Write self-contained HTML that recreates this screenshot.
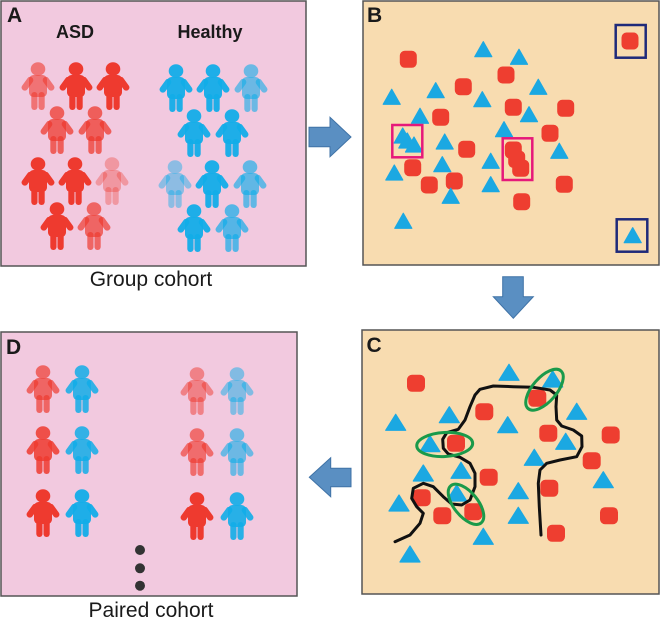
<!DOCTYPE html>
<html><head><meta charset="utf-8"><style>
html,body{margin:0;padding:0;background:#fff;}
svg{display:block;}
text{font-family:"Liberation Sans",Arial,sans-serif;}
</style></head><body>
<svg width="660" height="618" viewBox="0 0 660 618" xmlns="http://www.w3.org/2000/svg">
<defs>
<symbol id="p" viewBox="0 0 32 48" width="32" height="48" overflow="visible">
<ellipse cx="16" cy="7" rx="7.3" ry="6.8"/>
<rect x="7" y="13" width="18" height="22" rx="4.5"/>
<rect x="-3.2" y="0" width="6.4" height="15.5" rx="3.2" transform="translate(10,15.5) rotate(36)"/>
<rect x="-3.2" y="0" width="6.4" height="15.5" rx="3.2" transform="translate(22,15.5) rotate(-36)"/>
<rect x="9.3" y="30" width="6.2" height="18" rx="3"/>
<rect x="16.5" y="30" width="6.2" height="18" rx="3"/>
</symbol>
<path id="tb" d="M0,0 L8.5,15 L-8.5,15Z" fill="#1ba8e2" stroke="#1ba8e2" stroke-width="1.2" stroke-linejoin="round"/>
<rect id="sb" x="-8.5" y="-8.5" width="17" height="17" rx="5" fill="#ee3e30"/>
<path id="tc" d="M0,0 L10,16 L-10,16Z" fill="#1ba8e2" stroke="#1ba8e2" stroke-width="1.2" stroke-linejoin="round"/>
<rect id="sc" x="-9" y="-8.5" width="18" height="17" rx="5" fill="#ee3e30"/>
</defs>

<!-- Panel A -->
<rect x="1" y="1" width="305" height="265" fill="#f2c9df" stroke="#555" stroke-width="1.5"/>
<text x="7" y="22" font-size="21" font-weight="bold" fill="#1a1a1a">A</text>
<text x="75" y="38" font-size="18" font-weight="bold" fill="#1a1a1a" text-anchor="middle">ASD</text>
<text x="210" y="38" font-size="18" font-weight="bold" fill="#1a1a1a" text-anchor="middle">Healthy</text>
<g fill="#ee3a2f">
<use href="#p" x="22" y="62" fill-opacity="0.6"/>
<use href="#p" x="60" y="62"/>
<use href="#p" x="97" y="62"/>
<use href="#p" x="41" y="106" fill-opacity="0.75"/>
<use href="#p" x="79" y="106" fill-opacity="0.75"/>
<use href="#p" x="22" y="157"/>
<use href="#p" x="59" y="157"/>
<use href="#p" x="96" y="157" fill-opacity="0.35"/>
<use href="#p" x="41" y="202"/>
<use href="#p" x="78" y="202" fill-opacity="0.7"/>
</g>
<g fill="#12ade8">
<use href="#p" x="160" y="64" fill-opacity="0.95"/>
<use href="#p" x="197" y="64" fill-opacity="0.95"/>
<use href="#p" x="235" y="64" fill-opacity="0.6"/>
<use href="#p" x="178" y="109" fill-opacity="0.95"/>
<use href="#p" x="216" y="109" fill-opacity="0.95"/>
<use href="#p" x="159" y="160" fill-opacity="0.45"/>
<use href="#p" x="196" y="160" fill-opacity="0.95"/>
<use href="#p" x="234" y="160" fill-opacity="0.65"/>
<use href="#p" x="178" y="204" fill-opacity="0.95"/>
<use href="#p" x="216" y="204" fill-opacity="0.7"/>
</g>
<text x="151" y="286" font-size="21" fill="#1a1a1a" text-anchor="middle">Group cohort</text>

<!-- Arrow A->B -->
<polygon points="309,127.3 330,127.3 330,117.3 351,137 330,156.7 330,146.7 309,146.7" fill="#5a8fc2" stroke="#3f72a6" stroke-width="1"/>

<!-- Panel B -->
<rect x="363" y="1" width="296" height="264" fill="#f8dcb0" stroke="#555" stroke-width="1.5"/>
<text x="367" y="22" font-size="21" font-weight="bold" fill="#1a1a1a">B</text>
<g>
<use href="#sb" x="408.3" y="59.3"/>
<use href="#sb" x="463.3" y="86.7"/>
<use href="#sb" x="506" y="75"/>
<use href="#sb" x="440.7" y="117.3"/>
<use href="#sb" x="513.3" y="107.3"/>
<use href="#sb" x="565.7" y="108.3"/>
<use href="#sb" x="550" y="133.3"/>
<use href="#sb" x="466.7" y="149.3"/>
<use href="#sb" x="412.7" y="167.7"/>
<use href="#sb" x="429.3" y="185"/>
<use href="#sb" x="454.3" y="181"/>
<use href="#sb" x="564.3" y="184.3"/>
<use href="#sb" x="521.7" y="201.7"/>
<use href="#sb" x="513.3" y="150"/>
<use href="#sb" x="516.7" y="159.3"/>
<use href="#sb" x="520.7" y="168.3"/>
<use href="#sb" x="630" y="41"/>
</g>
<g>
<use href="#tb" x="483.3" y="41.7"/>
<use href="#tb" x="519" y="49.3"/>
<use href="#tb" x="391.7" y="89.3"/>
<use href="#tb" x="435.7" y="82.7"/>
<use href="#tb" x="482.3" y="91.7"/>
<use href="#tb" x="538.3" y="79.3"/>
<use href="#tb" x="420" y="108.3"/>
<use href="#tb" x="529" y="106.7"/>
<use href="#tb" x="504" y="121.7"/>
<use href="#tb" x="444.7" y="134"/>
<use href="#tb" x="559.3" y="143.3"/>
<use href="#tb" x="490.7" y="153.3"/>
<use href="#tb" x="442.3" y="156.7"/>
<use href="#tb" x="394.3" y="165"/>
<use href="#tb" x="490.7" y="176.7"/>
<use href="#tb" x="450.7" y="188.3"/>
<use href="#tb" x="403.3" y="213.3"/>
<use href="#tb" x="402.7" y="128"/>
<use href="#tb" x="407.3" y="133"/>
<use href="#tb" x="414" y="137"/>
<use href="#tb" x="632.7" y="227.7"/>
</g>
<rect x="392.3" y="125" width="30" height="32.3" fill="none" stroke="#e6197a" stroke-width="2.5"/>
<rect x="502.7" y="138.3" width="29.6" height="41.7" fill="none" stroke="#e6197a" stroke-width="2.5"/>
<rect x="615.7" y="25" width="30" height="32.7" fill="none" stroke="#1f2a7a" stroke-width="2.5"/>
<rect x="616.7" y="219.3" width="30.6" height="32.4" fill="none" stroke="#1f2a7a" stroke-width="2.5"/>

<!-- Arrow B->C -->
<polygon points="502.7,276.7 523.3,276.7 523.3,296.7 533.3,296.7 513.3,318.3 493.3,296.7 502.7,296.7" fill="#5a8fc2" stroke="#3f72a6" stroke-width="1"/>

<!-- Panel C -->
<rect x="362" y="330" width="297" height="264" fill="#f8dcb0" stroke="#555" stroke-width="1.5"/>
<text x="366.5" y="352" font-size="21" font-weight="bold" fill="#1a1a1a">C</text>
<g>
<use href="#sc" x="416" y="383.3"/>
<use href="#sc" x="484.3" y="411.7"/>
<use href="#sc" x="537.3" y="398.3"/>
<use href="#sc" x="548.3" y="433.3"/>
<use href="#sc" x="610.7" y="435"/>
<use href="#sc" x="456" y="443.3"/>
<use href="#sc" x="591.7" y="460.7"/>
<use href="#sc" x="488.7" y="477.3"/>
<use href="#sc" x="549.3" y="488.3"/>
<use href="#sc" x="421.7" y="497.7"/>
<use href="#sc" x="442.3" y="515.7"/>
<use href="#sc" x="473.3" y="511.7"/>
<use href="#sc" x="609" y="515.7"/>
<use href="#sc" x="556" y="533.3"/>
</g>
<g>
<use href="#tc" x="509" y="364.3"/>
<use href="#tc" x="552.7" y="371"/>
<use href="#tc" x="395.7" y="414.3"/>
<use href="#tc" x="449.3" y="406.7"/>
<use href="#tc" x="507.7" y="416.7"/>
<use href="#tc" x="576.7" y="403.3"/>
<use href="#tc" x="565.7" y="433.3"/>
<use href="#tc" x="430" y="435.7"/>
<use href="#tc" x="534.3" y="449.3"/>
<use href="#tc" x="423.3" y="465"/>
<use href="#tc" x="461" y="462.3"/>
<use href="#tc" x="603.3" y="471.7"/>
<use href="#tc" x="518.3" y="482.7"/>
<use href="#tc" x="456.7" y="485"/>
<use href="#tc" x="399" y="495"/>
<use href="#tc" x="518.3" y="507.3"/>
<use href="#tc" x="483.3" y="528.3"/>
<use href="#tc" x="410" y="546"/>
</g>
<polyline fill="none" stroke="#111" stroke-width="3" stroke-linejoin="round" stroke-linecap="round" points="395,541.7 410,535 420,523.3 423.3,513.3 416.7,506.7 411.7,498.3 413.3,488.3 423.3,483.3 433.3,486.7 443.3,496.7 451.7,504 461.7,505 470,500 475,486.7 475,473.3 470,463.3 460,457.3 448.3,454 443.3,448.3 442.7,439.3 446.7,432.7 458.3,429.3 465,420 470,406.7 475,395 480,389.3 493.3,386 513.3,386.7 533.3,387.3 550,390 556.7,395 556,406.7 556.7,420 561.7,426 573.3,430 581.7,436 582,446.7 576.7,456.7 560,460 546.7,463.3 540,470 538.3,483.3 539.3,506.7 541,535"/>
<g fill="none" stroke="#1a9a4a" stroke-width="3">
<ellipse cx="544.5" cy="389.7" rx="25" ry="12" transform="rotate(-49 544.5 389.7)"/>
<ellipse cx="444.7" cy="444.5" rx="28" ry="12" transform="rotate(-3 444.7 444.5)"/>
<ellipse cx="466" cy="504.3" rx="24" ry="12" transform="rotate(51 466 504.3)"/>
</g>

<!-- Arrow C->D -->
<polygon points="351,468.3 330.7,468.3 330.7,457.7 309.3,477.3 330.7,496.7 330.7,486.7 351,486.7" fill="#5a8fc2" stroke="#3f72a6" stroke-width="1"/>

<!-- Panel D -->
<rect x="1" y="332" width="296" height="264" fill="#f2c9df" stroke="#555" stroke-width="1.5"/>
<text x="6" y="354" font-size="21" font-weight="bold" fill="#1a1a1a">D</text>
<g fill="#ee3a2f">
<use href="#p" x="27" y="365" fill-opacity="0.7"/>
<use href="#p" x="181" y="367" fill-opacity="0.5"/>
<use href="#p" x="27" y="426" fill-opacity="0.85"/>
<use href="#p" x="181" y="428" fill-opacity="0.65"/>
<use href="#p" x="27" y="489"/>
<use href="#p" x="181" y="492"/>
</g>
<g fill="#12ade8">
<use href="#p" x="66" y="365" fill-opacity="0.85"/>
<use href="#p" x="221" y="367" fill-opacity="0.5"/>
<use href="#p" x="66" y="426" fill-opacity="0.85"/>
<use href="#p" x="221" y="428" fill-opacity="0.6"/>
<use href="#p" x="66" y="489" fill-opacity="0.95"/>
<use href="#p" x="221" y="492" fill-opacity="0.9"/>
</g>
<g fill="#333">
<circle cx="140" cy="550" r="5"/>
<circle cx="140" cy="568.3" r="5"/>
<circle cx="140" cy="585.7" r="5"/>
</g>
<text x="151" y="617" font-size="21" fill="#1a1a1a" text-anchor="middle">Paired cohort</text>
</svg>
</body></html>
